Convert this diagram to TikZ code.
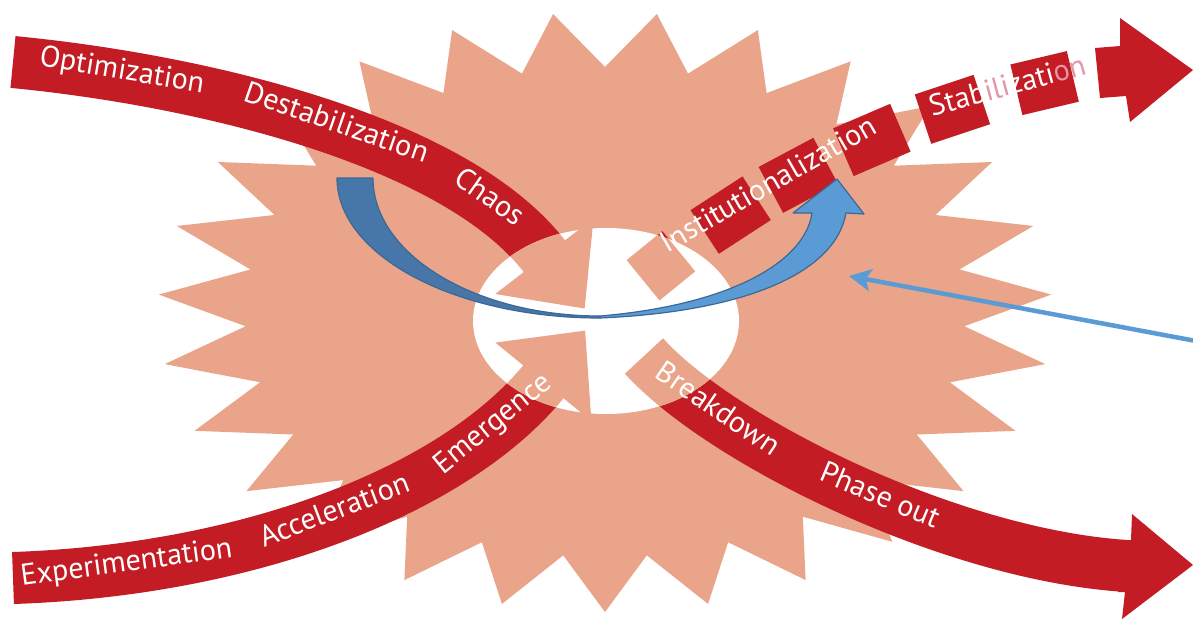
\documentclass[tikz,border=0pt]{standalone}
\usepackage{fontspec}
\setmainfont{PT Sans}
\usetikzlibrary{calc,arrows.meta}
\definecolor{bandred}{RGB}{196,28,36}
\definecolor{salmon}{RGB}{233,164,138}
\definecolor{bluedark}{RGB}{70,119,168}
\definecolor{bluelight}{RGB}{91,155,213}
\definecolor{blueedge}{RGB}{60,104,150}
\definecolor{pinktext}{RGB}{228,150,166}
\begin{document}
\begin{tikzpicture}[x=1pt,y=-1pt,
  band/.style={line width=52pt, draw=bandred},
  inband/.style={line width=52pt, draw=salmon},
  trsq/.style={sloped, fill=bandred, minimum width=62pt, minimum height=52pt,
               inner sep=0pt, outer sep=0pt},
  lab/.style={text=white, font=\fontsize{30}{34}\selectfont, sloped,
              inner sep=0pt, text height=0.6em, text depth=0pt},
  bluearrow/.style={draw=blueedge, line width=1.2pt, line join=round}]
\useasboundingbox (0,0) rectangle (1193,622);
\fill[white] (0,0) rectangle (1193,622);

% starburst
\fill[salmon, shift={(605,312)}] (90:447 and 300)
  \foreach \k in {0,...,26} {
    -- ({90+\k*360/27+180/27}:360 and 245)
    -- ({90+(\k+1)*360/27}:447 and 300) } -- cycle;

% band geometry
\coordinate (tl0) at (13,62);   \coordinate (tl1) at (200,80);
\coordinate (tl2) at (455,140); \coordinate (tl3) at (545,257);
\coordinate (bl0) at (13,578);  \coordinate (bl1) at (250,570);
\coordinate (bl2) at (455,490); \coordinate (bl3) at (544,381);
\coordinate (tr0) at (644,280); \coordinate (tr1) at (690,240);
\coordinate (tr2) at (840,120); \coordinate (tr3) at (1097,72);
\coordinate (br0) at (644,356); \coordinate (br1) at (720,440);
\coordinate (br2) at (950,555); \coordinate (br3) at (1127,566);

% red bands
\draw[band] (tl0) .. controls (tl1) and (tl2) .. (tl3);
\draw[band] (bl0) .. controls (bl1) and (bl2) .. (bl3);
\draw[band] (br0) .. controls (br1) and (br2) .. (br3);
% broken upper-right band
\path (tr0) .. controls (tr1) and (tr2) .. (tr3)
  node[trsq, pos=0.1, minimum width=46pt] (sq1) {}
  node[trsq, pos=0.35] (sq2) {}
  node[trsq, pos=0.515] (sq3) {}
  node[trsq, pos=0.66] (sq4) {}
  node[trsq, pos=0.795] (sq5) {}
  node[trsq, pos=0.93, minimum width=58pt] (sq6) {};

% outgoing arrow heads
\fill[bandred] (1118,540) -- (1131,540) -- (1132,514) -- (1193,565)
  -- (1122,619) -- (1125,592) -- (1118,592) -- cycle;
\fill[bandred] (1095,48) -- (1120,46) -- (1120,18) -- (1193,70)
  -- (1130,122) -- (1126,96) -- (1100,98) -- cycle;

% white centre
\fill[white] (606,321) ellipse [x radius=133, y radius=93];
\begin{scope}
  \clip (606,321) ellipse [x radius=133, y radius=93];
  \draw[inband] (tl0) .. controls (tl1) and (tl2) .. (tl3);
  \draw[inband] (bl0) .. controls (bl1) and (bl2) .. (bl3);
  \draw[inband] (br0) .. controls (br1) and (br2) .. (br3);
  \path (tr0) .. controls (tr1) and (tr2) .. (tr3)
    node[trsq, pos=0.1, minimum width=46pt, fill=salmon] (sq1in) {};
\end{scope}

% incoming arrow heads
\coordinate (tlh) at ($(tl3)!1pt!(tl2)$);
\coordinate (blh) at ($(bl3)!1pt!(bl2)$);
\fill[salmon] ($(tlh)!62pt!90:(tl2)$) -- ($(tlh)!-66pt!(tl2)$)
  -- ($(tlh)!62pt!-90:(tl2)$) -- cycle;
\fill[salmon] ($(blh)!62pt!90:(bl2)$) -- ($(blh)!-66pt!(bl2)$)
  -- ($(blh)!62pt!-90:(bl2)$) -- cycle;

% labels
\path (tl0) .. controls (tl1) and (tl2) .. (tl3)
  node[lab, pos=0.183] (opt) {Optimization}
  node[lab, pos=0.533] (destab) {Destabilization}
  node[lab, pos=0.83] (chaos) {Chaos};
\path (bl0) .. controls (bl1) and (bl2) .. (bl3)
  node[lab, pos=0.165] (exper) {Experimentation}
  node[lab, pos=0.505] (accel) {Acceleration}
  node[lab, pos=0.85] (emerg) {Emergence};
\path (tr0) .. controls (tr1) and (tr2) .. (tr3)
  node[lab, pos=0.455] (instit) {Institutionalization}
  node[lab, pos=0.88] (stabil)
    {Stab\textcolor{pinktext}{ili}zati\textcolor{pinktext}{on}};
\path (br0) .. controls (br1) and (br2) .. (br3)
  node[lab, pos=0.22] (breakd) {Breakdown}
  node[lab, pos=0.555] (phase) {Phase out};

% blue curved arrow
\draw[bluearrow, fill=bluedark] (337,178)
  arc[start angle=180, end angle=90, x radius=263, y radius=140]
  -- (600,316)
  arc[start angle=90, end angle=180, x radius=227, y radius=138] -- cycle;
\draw[bluearrow, fill=bluelight] (600,318)
  .. controls (740,312) and (835,275) .. (846,213)
  -- (864,214) -- (837,179) -- (793,213) -- (812,213)
  .. controls (805,262) and (730,305) .. (600,316) -- cycle;

% straight pointer
\coordinate (pstart) at (1196,341);
\coordinate (ptip) at (849,276);
\draw[bluelight, line width=4.5pt,
  -{Stealth[length=22pt, width=22pt, inset=5pt]}] (pstart) -- (ptip);
\end{tikzpicture}
\end{document}
